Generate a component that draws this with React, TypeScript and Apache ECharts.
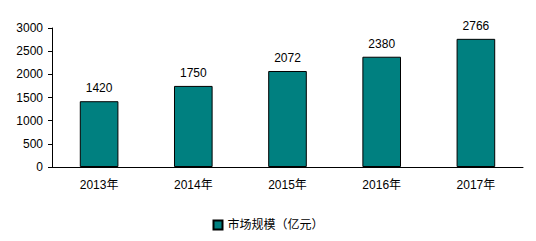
import React, { useEffect, useRef } from "react";
import * as echarts from "echarts";

const categories = ["2013年", "2014年", "2015年", "2016年", "2017年"];
const marketSize = [1420, 1750, 2072, 2380, 2766];
const seriesName = "市场规模（亿元）";

export default function App() {
  const ref = useRef<HTMLDivElement>(null);
  useEffect(() => {
    const chart = echarts.init(ref.current!, null, { renderer: "svg" });
    const font = "Arial, 'Liberation Sans', 'Noto Sans CJK SC', sans-serif";
    chart.setOption({
      animation: false,
      backgroundColor: "#ffffff",
      grid: { left: 52, right: 13, top: 28, bottom: 74 },
      legend: {
        data: [seriesName],
        bottom: 5,
        left: "center",
        itemWidth: 9,
        itemHeight: 9,
        itemGap: 4,
        icon: "rect",
        textStyle: { fontFamily: font, fontSize: 12, color: "#000" },
      },
      xAxis: {
        type: "category",
        data: categories,
        axisLine: { lineStyle: { color: "#000", width: 1 } },
        axisTick: { inside: true, length: 4, lineStyle: { color: "#000" } },
        axisLabel: { fontFamily: font, fontSize: 12, color: "#000", margin: 12 },
      },
      yAxis: {
        type: "value",
        min: 0,
        max: 3000,
        interval: 500,
        axisLine: { show: true, lineStyle: { color: "#000", width: 1 } },
        axisTick: { show: true, length: 4, lineStyle: { color: "#000" } },
        splitLine: { show: false },
        axisLabel: {
          fontFamily: font,
          fontSize: 12,
          color: "#000",
          margin: 9,
          formatter: (v: number) => String(v),
        },
      },
      series: [
        {
          name: seriesName,
          type: "bar",
          data: marketSize,
          barWidth: "41%",
          itemStyle: { color: "#008080", borderColor: "#000", borderWidth: 1 },
          label: {
            show: true,
            position: "top",
            distance: 7,
            fontFamily: font,
            fontSize: 12,
            color: "#000",
          },
        },
      ],
    });
    return () => chart.dispose();
  }, []);
  return <div ref={ref} style={{ width: 536, height: 241, margin: -8 }} />;
}
